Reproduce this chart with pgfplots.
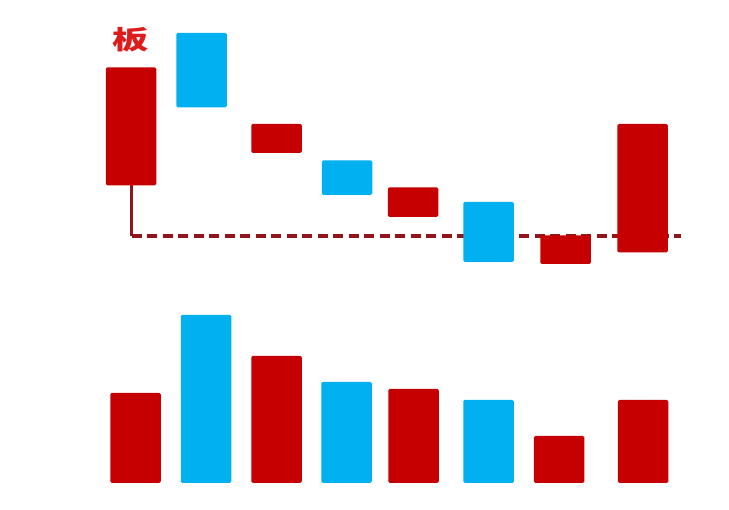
\documentclass[border=0pt]{standalone}
\usepackage{fontspec}
\newfontfamily\cjk{Noto Sans CJK SC}
\usepackage{pgfplots}
\pgfplotsset{compat=1.18}
\usepackage{pgfplotstable}

\definecolor{upred}{RGB}{198,0,0}
\definecolor{downblue}{RGB}{0,176,240}
\definecolor{lineRed}{RGB}{145,22,28}
\definecolor{labelRed}{RGB}{222,28,28}

% candle bodies: x = centre, lo/hi = body limits, up = 1 red, 0 blue
\pgfplotstableread{
x     lo     hi     up
131   324.5  442.5  1
201.5 402.5  477    0
276.5 357    386    1
347   315    349.5  0
413   293    322.5  1
488.5 248    308    0
565.5 246    274.5  1
642.5 257.5  386    1
}\candles

% volume bars
\pgfplotstableread{
x     vol  up
135.5 90   1
206   168  0
276.5 127  1
346.5 101  0
413.5 94   1
488.5 83   0
559   47   1
643   83   1
}\volumes

\pgfplotsset{
  frame/.style={width=729bp, height=510bp, scale only axis, hide axis,
    xmin=0, xmax=729, clip=false},
  bars/.style={frame, ybar stacked, bar width=50.5},
}

\begin{document}
\begin{tikzpicture}
% support line under the first candle
\begin{axis}[frame, ymin=0, ymax=510, no markers]
\path (rel axis cs:0,0) rectangle (rel axis cs:1,1);
\addplot[lineRed, line width=3bp] coordinates {(131.5,325) (131.5,274)};
\addplot[lineRed, line width=3.2bp, dash pattern=on 10bp off 5.5bp]
  coordinates {(131.5,274) (681,274)};
\end{axis}

% candles
\begin{axis}[bars, ymin=0, ymax=510]
\addplot[draw=none, fill=none] table[x=x, y=lo] {\candles};
\addplot[fill=upred, draw=none, rounded corners=1.5bp]
  table[x=x, y expr={\thisrow{up}*(\thisrow{hi}-\thisrow{lo})}] {\candles};
\addplot[fill=downblue, draw=none, rounded corners=1.5bp]
  table[x=x, y expr={(1-\thisrow{up})*(\thisrow{hi}-\thisrow{lo})}] {\candles};
\node[text=labelRed, font=\cjk\bfseries\fontsize{26}{26}\selectfont]
  at (axis cs:130.5,470) {\scalebox{1.4}[1]{板}};
\end{axis}

% volume
\begin{axis}[bars, ymin=-27, ymax=483]
\addplot[fill=upred, draw=none, rounded corners=1.5bp]
  table[x=x, y expr={\thisrow{up}*\thisrow{vol}}] {\volumes};
\addplot[fill=downblue, draw=none, rounded corners=1.5bp]
  table[x=x, y expr={(1-\thisrow{up})*\thisrow{vol}}] {\volumes};
\end{axis}
\end{tikzpicture}
\end{document}
